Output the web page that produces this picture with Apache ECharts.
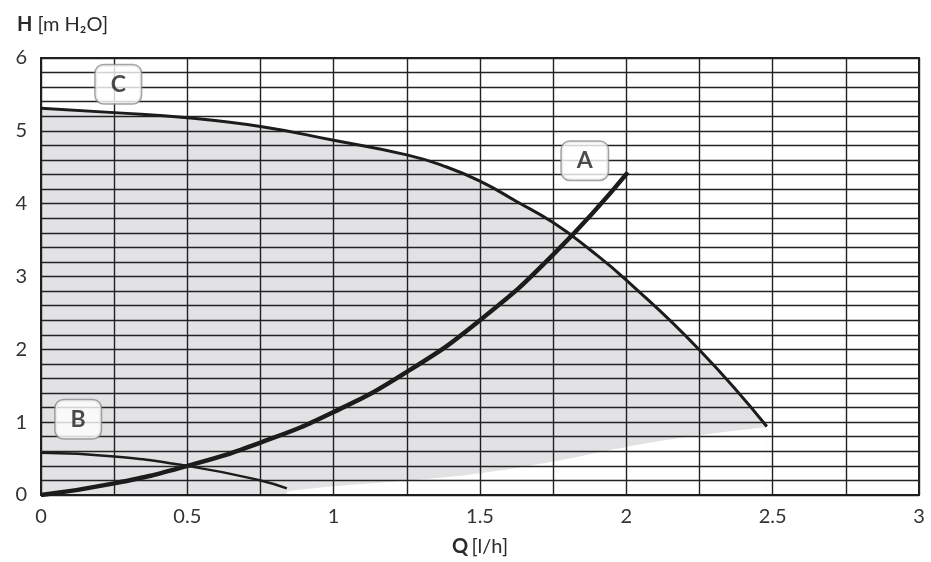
<!DOCTYPE html>
<html>
<head>
<meta charset="utf-8">
<script src="https://cdn.jsdelivr.net/npm/echarts@6/dist/echarts.min.js"></script>
<style>
html,body{margin:0;padding:0;background:#fff;}
#chart{width:931px;height:562px;}
</style>
</head>
<body>
<div id="chart"></div>
<script>
// ---- data ----
const xTickLabels = ['0', '0.5', '1', '1.5', '2', '2.5', '3'];
const yTickLabels = ['0', '1', '2', '3', '4', '5', '6'];

// Curve C (max pump curve)
const curveC = [[0, 5.31], [0.25, 5.25], [0.5, 5.18], [0.75, 5.06], [1.0, 4.87], [1.25, 4.67], [1.375, 4.52], [1.5, 4.31], [1.625, 4.03], [1.75, 3.74], [1.875, 3.37], [2.0, 2.95], [2.25, 1.99], [2.48, 0.94]];
// Curve A (system curve)
const curveA = [[0, 0], [0.25, 0.16], [0.5, 0.40], [0.75, 0.72], [1.0, 1.14], [1.25, 1.69], [1.5, 2.40], [1.75, 3.30], [2.005, 4.43]];
// Curve B (min pump curve)
const curveB = [[0, 0.58], [0.25, 0.53], [0.5, 0.40], [0.75, 0.20], [0.84, 0.09]];
// Lower edge of the shaded working range
const shadeLower = [[0.84, 0.05], [1.0, 0.12], [1.25, 0.20], [1.5, 0.30], [1.75, 0.46], [2.0, 0.66], [2.25, 0.82], [2.48, 0.93]];
// Curve name tags
const tagNames = ['C', 'A', 'B'];
const tagPoints = [[0.264, 5.64], [1.858, 4.59], [0.127, 1.04]];

const FONT = 'Lato, "Open Sans", sans-serif';
const SMOOTH = 0.5;
const chart = echarts.init(document.getElementById('chart'));

function fmt(list) {
  return function (v) {
    const s = String(+(+v).toFixed(3));
    return list.indexOf(s) >= 0 ? s : '';
  };
}

const nameRich = {
  b: {fontFamily: FONT, fontWeight: 'bold', fontSize: 20, color: '#2a2a2a'},
  n: {fontFamily: FONT, fontWeight: 'normal', fontSize: 20, color: '#2a2a2a'}
};

chart.setOption({
  animation: false,
  title: {
    left: 12, top: 10,
    text: '{b|H} {n|[m H₂O]}',
    textStyle: {fontWeight: 'normal', rich: nameRich}
  },
  grid: {left: 41, right: 12, top: 58, bottom: 67, show: true, borderColor: '#1e1e1e', borderWidth: 2, backgroundColor: 'transparent', z: 5},
  xAxis: {
    type: 'value', min: 0, max: 3, interval: 0.25, z: 5,
    name: '{b|Q} {n|[l/h]}', nameLocation: 'middle', nameGap: 42,
    nameTextStyle: {fontWeight: 'normal', rich: nameRich},
    axisLine: {show: true, lineStyle: {color: '#1e1e1e', width: 2}},
    axisTick: {show: false},
    splitLine: {show: true, lineStyle: {color: '#222', width: 1.4}},
    axisLabel: {formatter: fmt(xTickLabels), fontFamily: FONT, fontSize: 20, color: '#333', margin: 12}
  },
  yAxis: {
    type: 'value', min: 0, max: 6, interval: 0.2, z: 5,
    axisLine: {show: true, lineStyle: {color: '#1e1e1e', width: 2}},
    axisTick: {show: false},
    splitLine: {show: true, lineStyle: {color: '#222', width: 1.4}},
    axisLabel: {formatter: fmt(yTickLabels), fontFamily: FONT, fontSize: 20, color: '#333', margin: 14}
  },
  series: [
    {
      type: 'line', data: curveC, smooth: SMOOTH, showSymbol: false, z: 1,
      lineStyle: {width: 0}, areaStyle: {color: '#e2e2e4', opacity: 1}, silent: true
    },
    {
      type: 'line', data: shadeLower, smooth: SMOOTH, showSymbol: false, z: 2,
      lineStyle: {width: 0}, areaStyle: {color: '#ffffff', opacity: 1}, silent: true
    },
    {
      type: 'line', name: 'A', data: curveA, smooth: SMOOTH, showSymbol: false, z: 10,
      lineStyle: {width: 4.5, color: '#1c1c1c'}
    },
    {
      type: 'line', name: 'B', data: curveB, smooth: SMOOTH, showSymbol: false, z: 10,
      lineStyle: {width: 2.5, color: '#1c1c1c'}
    },
    {
      type: 'line', name: 'C', data: curveC, smooth: SMOOTH, showSymbol: false, z: 10,
      lineStyle: {width: 3, color: '#1c1c1c'}
    },
    {
      type: 'scatter', z: 20, symbolSize: 0,
      data: tagPoints.map((p, i) => ({value: p, name: tagNames[i]})),
      label: {
        show: true, position: 'inside', formatter: '{b}',
        fontFamily: FONT, fontWeight: 'bold', fontSize: 23, color: '#1e1e1e',
        backgroundColor: '#fff', borderColor: '#8c8c8c', borderWidth: 1.5, borderRadius: 8,
        padding: [8, 15, 7, 15]
      }
    }
  ]
});
</script>
</body>
</html>
